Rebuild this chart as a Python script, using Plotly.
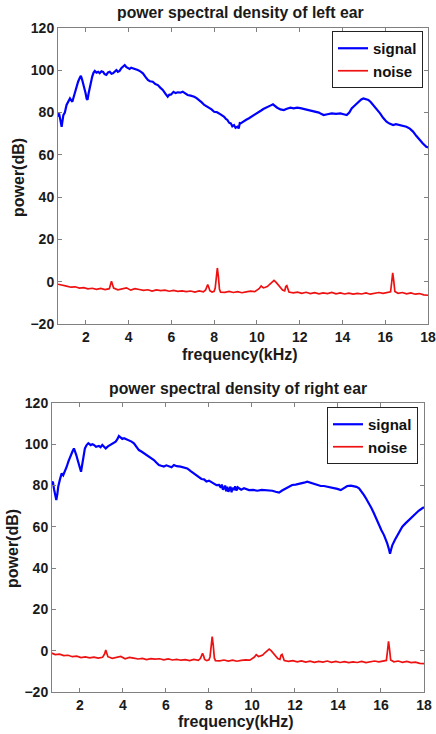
import plotly.graph_objects as go

# ---------------- data ----------------
left_sig_f = [0.7, 0.75, 0.8, 0.87, 0.95, 1.02, 1.1, 1.18, 1.26, 1.37, 1.43, 1.49, 1.56, 1.64, 1.72, 1.77, 1.83,
              1.88, 1.94, 1.99, 2.04, 2.08, 2.13, 2.19, 2.25, 2.3, 2.36, 2.42, 2.5, 2.58, 2.65, 2.73, 2.81, 2.88,
              2.96, 3.04, 3.12, 3.2, 3.27, 3.35, 3.43, 3.5, 3.58, 3.66, 3.75, 3.82, 3.9, 3.97, 4.05, 4.12, 4.2,
              4.3, 4.43, 4.55, 4.67, 4.78, 4.9, 5.0, 5.13, 5.25, 5.37, 5.48, 5.6, 5.72, 5.83, 5.9, 5.99, 6.1,
              6.2, 6.3, 6.42, 6.53, 6.65, 6.76, 6.9, 7.07, 7.18, 7.3, 7.42, 7.54, 7.65, 7.77, 7.88, 8.0, 8.12,
              8.23, 8.35, 8.47, 8.55, 8.62, 8.7, 8.78, 8.85, 8.93, 9.0, 9.09, 9.15, 9.2, 9.24, 9.32, 9.4, 9.5,
              9.63, 9.75, 9.86, 9.98, 10.1, 10.2, 10.3, 10.43, 10.56, 10.65, 10.75, 10.85, 10.95, 11.1, 11.26,
              11.4, 11.57, 11.72, 11.88, 12.03, 12.19, 12.3, 12.42, 12.58, 12.73, 12.9, 13.0, 13.12, 13.3, 13.5,
              13.7, 13.9, 14.05, 14.2, 14.32, 14.43, 14.6, 14.75, 14.88, 14.98, 15.1, 15.21, 15.32, 15.44, 15.6,
              15.76, 15.9, 16.06, 16.2, 16.37, 16.5, 16.68, 16.85, 16.99, 17.15, 17.3, 17.45, 17.6, 17.75,
              17.92, 18.0]
left_sig_db = [78, 79.6, 77, 73.3, 78.8, 80, 83.6, 85, 86.7, 85.1, 87.5, 89.9, 92, 94.6, 96.5, 97.4, 95.5,
               93.8, 91, 89.1, 86.5, 86, 89, 92.2, 95, 97, 98.8, 99.7, 98.9, 99.3, 98.6, 99.5, 99.2, 98.2,
               97.8, 99, 99.3, 98.4, 98.6, 99.6, 100.1, 99.3, 99.7, 101, 101.8, 102.5, 101.5, 101, 100.6, 101.2,
               101, 100.4, 100.1, 99.5, 98.6, 97, 95.4, 94.8, 94.6, 93.5, 93, 91.8, 90.7, 89, 87.5, 88.4, 88.6,
               89.8, 89.2, 89.6, 89.4, 89.9, 88.9, 88.3, 88, 87.5, 86.8, 86, 84.8, 83.6, 83, 82, 81.5, 80.4,
               80.2, 79.6, 78.9, 78, 77, 76.5, 75.2, 74.9, 73.5, 74.1, 72.8, 73.3, 72.5, 75, 74.9, 75.5, 75.7,
               76.6, 77.3, 78, 78.8, 79.6, 80.4, 81, 81.7, 82.2, 82.8, 83.4, 83.9, 83, 82.3, 81.5, 81.2, 81.8,
               82.3, 82, 82.3, 82.1, 81.7, 81.5, 81.2, 81, 80.7, 80, 79.4, 78.8, 79.2, 79.6, 79.4, 79.6, 79.2,
               78.8, 80, 82, 83.6, 85.1, 86.2, 86.7, 86.5, 86, 85, 83.6, 81.6, 79.6, 77.5, 75.7, 74.8, 74.1,
               74.5, 74.1, 73.8, 73.3, 72.4, 71, 69, 67, 65.5, 63.8, 63.5]

left_noise_f = [0.7, 0.9, 1.1, 1.3, 1.5, 1.7, 1.9, 2.1, 2.3, 2.5, 2.7, 2.9, 3.1, 3.15, 3.2, 3.25, 3.3, 3.5, 3.7,
                3.9, 4.1, 4.3, 4.5, 4.7, 4.9, 5.1, 5.3, 5.5, 5.7, 5.9, 6.1, 6.3, 6.5, 6.7, 6.9, 7.1, 7.3, 7.5,
                7.6, 7.65, 7.7, 7.75, 7.8, 7.9, 8.0, 8.05, 8.1, 8.15, 8.2, 8.25, 8.3, 8.5, 8.7, 8.9, 9.1, 9.3,
                9.5, 9.7, 9.9, 10.0, 10.1, 10.2, 10.3, 10.4, 10.5, 10.6, 10.7, 10.8, 10.9, 11.0, 11.1, 11.2,
                11.3, 11.35, 11.4, 11.45, 11.5, 11.7, 11.9, 12.1, 12.3, 12.5, 12.7, 12.9, 13.1, 13.3, 13.5,
                13.7, 13.9, 14.1, 14.3, 14.5, 14.7, 14.9, 15.1, 15.3, 15.5, 15.7, 15.9, 16.1, 16.25, 16.3,
                16.35, 16.4, 16.45, 16.6, 16.8, 17.0, 17.2, 17.4, 17.6, 17.8, 18.0]
left_noise_db = [-1.2, -1.8, -2.1, -2.6, -2.4, -3.0, -2.8, -3.4, -3.1, -3.6, -3.2, -3.7, -3.3, -1.6, 0.2, -1.4,
                 -3.0, -3.8, -3.4, -2.9, -4.0, -3.3, -3.7, -4.1, -3.8, -4.4, -3.9, -4.2, -4.0, -4.5, -4.1, -4.6,
                 -4.3, -4.7, -4.4, -4.9, -4.3, -4.8, -3.9, -2.3, -1.4, -2.6, -4.3, -4.9, -4.5, -3.0, 3.0, 6.5,
                 2.4, -3.6, -4.9, -5.0, -4.6, -5.1, -4.7, -5.2, -4.8, -4.5, -4.7, -4.0, -3.3, -2.0, -2.9, -2.6,
                 -2.2, -1.2, -0.1, 0.6, -0.3, -1.6, -2.9, -3.9, -4.3, -2.3, -1.9, -3.6, -4.9, -5.3, -4.9, -5.5,
                 -5.0, -5.6, -5.2, -5.7, -5.3, -5.6, -5.1, -5.7, -5.3, -5.8, -5.4, -5.9, -5.5, -5.8, -5.3, -5.9,
                 -5.4, -5.1, -5.5, -5.0, -4.8, -0.5, 4.2, 0.3, -4.6, -5.5, -5.1, -5.7, -5.3, -5.9, -5.6, -6.2,
                 -6.4]

right_sig_f = [0.65, 0.74, 0.8, 0.84, 0.9, 0.95, 0.99, 1.07, 1.15, 1.22, 1.3, 1.38, 1.46, 1.52, 1.57, 1.65,
               1.72, 1.78, 1.83, 1.89, 1.95, 2.0, 2.05, 2.1, 2.14, 2.19, 2.23, 2.31, 2.39, 2.5, 2.58, 2.65, 2.75,
               2.88, 2.96, 3.04, 3.12, 3.2, 3.3, 3.43, 3.55, 3.66, 3.74, 3.81, 3.9, 3.97, 4.05, 4.15, 4.28, 4.4,
               4.51, 4.62, 4.74, 4.86, 4.98, 5.1, 5.2, 5.32, 5.44, 5.55, 5.67, 5.78, 5.9, 6.02, 6.14, 6.26, 6.37,
               6.5, 6.68, 6.84, 6.99, 7.15, 7.3, 7.42, 7.53, 7.65, 7.77, 7.88, 8.0, 8.12, 8.23, 8.35, 8.47, 8.55,
               8.6, 8.65, 8.7, 8.75, 8.8, 8.85, 8.9, 8.93, 9.0, 9.05, 9.1, 9.16, 9.22, 9.28, 9.34, 9.4, 9.5,
               9.63, 9.75, 9.86, 10.05, 10.25, 10.45, 10.64, 10.8, 10.95, 11.1, 11.26, 11.4, 11.57, 11.72, 11.87,
               12.03, 12.19, 12.3, 12.42, 12.57, 12.72, 12.88, 13.05, 13.2, 13.35, 13.5, 13.65, 13.81, 13.97,
               14.13, 14.28, 14.43, 14.6, 14.74, 14.86, 14.98, 15.1, 15.21, 15.32, 15.44, 15.56, 15.67, 15.78,
               15.9, 16.02, 16.14, 16.22, 16.29, 16.36, 16.42, 16.47, 16.53, 16.65, 16.76, 16.88, 16.99, 17.15,
               17.3, 17.45, 17.6, 17.75, 17.92, 18.0]
right_sig_db = [80.3, 81.9, 78, 75.4, 73, 76, 79.5, 83, 85.9, 85, 86.7, 89, 91.6, 93.5, 94.8, 96.5, 98, 96.5,
                94.8, 92.5, 90.8, 88.5, 86.7, 90, 93.2, 96, 98, 99.6, 100.5, 99.6, 100, 99.7, 98.8, 99.2, 98.6,
                99.7, 99, 98, 99, 99.7, 100.6, 101.3, 102.5, 104, 103.2, 102.6, 102.9, 102.4, 102.1, 101.3,
                100.5, 99, 97.2, 96.5, 95.6, 94.9, 94.3, 93.2, 92.4, 91.2, 90, 89.6, 89.2, 89.8, 89.2, 88.9, 90,
                89.4, 89.2, 88.6, 88.3, 87, 85.9, 85, 84.3, 83.2, 83, 82, 82.4, 81.6, 81.1, 80.2, 80.3, 79, 80.5,
                78, 78.7, 80, 77.2, 79.5, 77, 77.8, 79.5, 76.8, 79, 77.8, 79.6, 77.5, 79.2, 78.7, 78, 78.7, 78.2,
                77.8, 77.9, 77.5, 77.9, 77.8, 77.4, 77.5, 77, 76.6, 77.6, 78.7, 79.6, 80.3, 80.5, 80.8, 81.1,
                81.4, 81.9, 81.4, 81.1, 80.4, 79.8, 79.8, 79.5, 79.2, 78.7, 78.4, 77.8, 78.8, 79.8, 80, 79.8,
                79.4, 78.7, 77.2, 75.4, 73.5, 71.4, 69, 66.6, 63.8, 60.9, 58.4, 56, 54, 52, 49.5, 47, 49, 51.2,
                53.8, 56, 58.2, 60.1, 61.8, 63.3, 65, 66.6, 67.8, 69, 69.5]

right_noise_f = [0.65, 0.85, 1.05, 1.25, 1.45, 1.65, 1.85, 2.05, 2.25, 2.45, 2.65, 2.85, 3.05, 3.15, 3.2, 3.25,
                 3.3, 3.5, 3.7, 3.9, 4.1, 4.3, 4.5, 4.7, 4.9, 5.1, 5.3, 5.5, 5.7, 5.9, 6.1, 6.3, 6.5, 6.7, 6.9,
                 7.1, 7.3, 7.5, 7.6, 7.65, 7.7, 7.75, 7.8, 7.9, 8.0, 8.05, 8.1, 8.15, 8.2, 8.25, 8.3, 8.5, 8.7,
                 8.9, 9.1, 9.3, 9.5, 9.7, 9.9, 10.0, 10.1, 10.2, 10.3, 10.4, 10.5, 10.6, 10.7, 10.8, 10.9, 11.0,
                 11.1, 11.2, 11.3, 11.35, 11.4, 11.45, 11.5, 11.7, 11.9, 12.1, 12.3, 12.5, 12.7, 12.9, 13.1,
                 13.3, 13.5, 13.7, 13.9, 14.1, 14.3, 14.5, 14.7, 14.9, 15.1, 15.3, 15.5, 15.7, 15.9, 16.1,
                 16.25, 16.3, 16.35, 16.4, 16.45, 16.6, 16.8, 17.0, 17.2, 17.4, 17.6, 17.8, 18.0]
right_noise_db = [-1.0, -1.9, -1.7, -2.4, -2.2, -2.9, -2.6, -3.3, -3.0, -3.5, -3.1, -3.6, -3.2, -1.5, 0.3,
                  -1.3, -2.9, -3.7, -3.3, -2.8, -3.9, -3.2, -3.6, -4.0, -3.7, -4.3, -3.8, -4.1, -3.9, -4.4,
                  -4.0, -4.5, -4.2, -4.6, -4.3, -4.8, -4.2, -4.7, -3.8, -2.2, -1.3, -2.5, -4.2, -4.8, -4.4,
                  -2.9, 3.2, 6.8, 2.6, -3.5, -4.8, -4.9, -4.5, -5.0, -4.6, -5.1, -4.7, -4.4, -4.6, -3.9, -3.2,
                  -1.9, -2.8, -2.5, -2.1, -1.0, 0.1, 0.8, -0.1, -1.5, -2.8, -3.8, -4.2, -2.2, -1.8, -3.5, -4.8,
                  -5.2, -4.8, -5.4, -4.9, -5.5, -5.1, -5.6, -5.2, -5.5, -5.0, -5.6, -5.2, -5.7, -5.3, -5.8,
                  -5.4, -5.7, -5.2, -5.8, -5.3, -5.0, -5.4, -4.9, -4.7, -0.3, 4.5, 0.5, -4.5, -5.4, -5.0, -5.6,
                  -5.2, -5.8, -5.5, -6.1, -6.3]

x_ticks = [2, 4, 6, 8, 10, 12, 14, 16, 18]
y_ticks = [-20, 0, 20, 40, 60, 80, 100, 120]
titles = ["power spectral density of left ear", "power spectral density of right ear"]
x_label = "frequency(kHz)"
y_label = "power(dB)"
series_names = ["signal", "noise"]

# ---------------- figure ----------------
W, H = 436, 734
FONT = "Liberation Sans"
BLUE = "#0000ff"
RED = "#ee1111"
AX = "#808080"

fig = go.Figure()
fig.add_trace(go.Scatter(x=left_sig_f, y=left_sig_db, mode="lines", name=series_names[0],
                         line=dict(color=BLUE, width=2.2), xaxis="x", yaxis="y", legend="legend"))
fig.add_trace(go.Scatter(x=left_noise_f, y=left_noise_db, mode="lines", name=series_names[1],
                         line=dict(color=RED, width=1.7), xaxis="x", yaxis="y", legend="legend"))
fig.add_trace(go.Scatter(x=right_sig_f, y=right_sig_db, mode="lines", name=series_names[0],
                         line=dict(color=BLUE, width=2.2), xaxis="x2", yaxis="y2", legend="legend2"))
fig.add_trace(go.Scatter(x=right_noise_f, y=right_noise_db, mode="lines", name=series_names[1],
                         line=dict(color=RED, width=1.7), xaxis="x2", yaxis="y2", legend="legend2"))

tickfont = dict(family=FONT, size=14, color="#1a1a1a", weight="bold")


def xax(domain, anchor):
    return dict(domain=domain, anchor=anchor, range=[0.7, 18], tickvals=x_ticks,
                showline=True, linecolor=AX, linewidth=1, mirror="ticks", ticks="inside",
                ticklen=4, tickcolor=AX, showgrid=False, zeroline=False, tickfont=tickfont,
                automargin=False, ticklabeloverflow="allow")


def yax(domain, anchor):
    return dict(domain=domain, anchor=anchor, range=[-20, 120], tickvals=y_ticks,
                showline=True, linecolor=AX, linewidth=1, mirror="ticks", ticks="inside",
                ticklen=4, tickcolor=AX, showgrid=False, zeroline=False, tickfont=tickfont,
                automargin=False, ticklabeloverflow="allow")


top = (28, 324)
bot = (403, 692)
fig.update_layout(
    template="none",
    width=W, height=H, margin=dict(l=0, r=0, t=0, b=0, pad=0), autosize=False,
    paper_bgcolor="white", plot_bgcolor="white",
    xaxis=xax([58 / W, 428 / W], "y"),
    yaxis=yax([1 - top[1] / H, 1 - top[0] / H], "x"),
    xaxis2=xax([52 / W, 424 / W], "y2"),
    yaxis2=yax([1 - bot[1] / H, 1 - bot[0] / H], "x2"),
    legend=dict(x=423 / W, xanchor="right", y=1 - 31 / H, yanchor="top",
                bordercolor="#222", borderwidth=1, bgcolor="white",
                font=dict(family=FONT, size=15, color="#111", weight="bold"), tracegroupgap=0),
    legend2=dict(x=418 / W, xanchor="right", y=1 - 407 / H, yanchor="top",
                 bordercolor="#222", borderwidth=1, bgcolor="white",
                 font=dict(family=FONT, size=15, color="#111", weight="bold"), tracegroupgap=0),
    showlegend=True,
)

ann_font_t = dict(family=FONT, size=15.8, color="#1a1a1a", weight="bold")
ann_font_l = dict(family=FONT, size=16, color="#1a1a1a", weight="bold")
anns = [
    dict(text=titles[0], x=241 / W, y=1 - 13 / H),
    dict(text=titles[1], x=238 / W, y=1 - 388 / H),
]
for a in anns:
    fig.add_annotation(xref="paper", yref="paper", showarrow=False, xanchor="center", yanchor="middle",
                       font=ann_font_t, **a)
for (xx, yy) in [(240, 354), (236, 721)]:
    fig.add_annotation(text=x_label, xref="paper", yref="paper", x=xx / W, y=1 - yy / H, showarrow=False,
                       xanchor="center", yanchor="middle", font=ann_font_l)
for (xx, yy) in [(18, 178), (12, 549)]:
    fig.add_annotation(text=y_label, xref="paper", yref="paper", x=xx / W, y=1 - yy / H, showarrow=False,
                       xanchor="center", yanchor="middle", textangle=-90, font=ann_font_l)

fig.write_html("out.html", config={"displayModeBar": False},
               post_script="document.body.style.margin='0';document.body.style.padding='0';")
